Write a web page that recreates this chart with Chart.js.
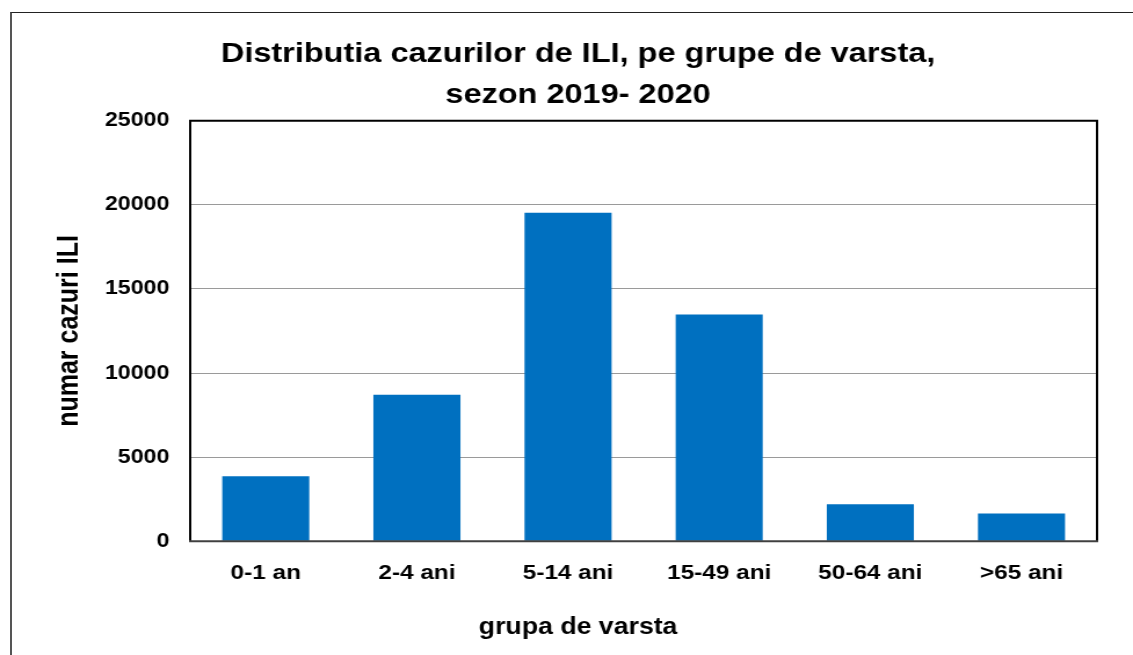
<!DOCTYPE html>
<html>
<head>
<meta charset="utf-8">
<title>Distributia cazurilor de ILI</title>
<script src="https://cdn.jsdelivr.net/npm/chart.js@4.4.1/dist/chart.umd.min.js"></script>
<style>
    html, body { margin: 0; padding: 0; background: #fff; overflow: hidden; }
    #frame {
        position: absolute; left: 10px; top: 12px; width: 1200px; height: 700px;
        border-left: 2px solid #555; border-top: 1px solid #222;
    }
    #iliChart { position: absolute; left: 0; top: 0; }
</style>
</head>
<body>
<div id="frame"></div>
<!-- the original picture is stretched sideways, so the canvas is shown wider than it draws -->
<canvas id="iliChart" width="977" height="655" style="width:1133px;height:655px"></canvas>
<script>
// Data
const categories = ["0-1 an", "2-4 ani", "5-14 ani", "15-49 ani", "50-64 ani", ">65 ani"];
const cases = [3860, 8710, 19530, 13480, 2190, 1650];
const yTicks = [0, 5000, 10000, 15000, 20000, 25000];

const FONT = "'Liberation Sans', Arial, sans-serif";
const LEFT_PAD = 51;
const PLOT_LEFT = 164;

// Draws the black box round the plot area
const plotBorder = {
    id: "plotBorder",
    afterDatasetsDraw(chart) {
        const { ctx, chartArea: a } = chart;
        ctx.save();
        ctx.lineWidth = 2;
        ctx.strokeStyle = "#000";
        ctx.beginPath();
        ctx.moveTo(a.left, a.bottom);
        ctx.lineTo(a.left, a.top);
        ctx.lineTo(a.right, a.top);
        ctx.lineTo(a.right, a.bottom);
        ctx.stroke();
        ctx.strokeStyle = "#404040";
        ctx.beginPath();
        ctx.moveTo(a.left - 1, a.bottom);
        ctx.lineTo(a.right + 1, a.bottom);
        ctx.stroke();
        ctx.restore();
    }
};

const ctx = document.getElementById("iliChart").getContext("2d");

new Chart(ctx, {
    type: "bar",
    data: {
        labels: categories,
        datasets: [{
            label: "numar cazuri ILI",
            data: cases,
            backgroundColor: "#0070C0",
            borderWidth: 0,
            barPercentage: 0.72,
            categoryPercentage: 0.8,
        }],
    },
    options: {
        responsive: false,
        devicePixelRatio: 1,
        animation: false,
        layout: {
            padding: { left: LEFT_PAD, right: 31, top: 0, bottom: 0 },
        },
        plugins: {
            legend: { display: false },
            tooltip: { enabled: false },
            title: {
                display: true,
                text: ["Distributia cazurilor de ILI, pe grupe de varsta,", "sezon 2019- 2020"],
                color: "#000",
                font: { family: FONT, size: 28, weight: "bold", lineHeight: 1.46 },
                padding: { top: 34, bottom: 5 },
            },
            subtitle: {
                display: true,
                position: "bottom",
                text: "grupa de varsta",
                color: "#000",
                font: { family: FONT, size: 23, weight: "bold", lineHeight: 1.2 },
                padding: { top: 9, bottom: 14 },
            },
        },
        scales: {
            x: {
                grid: { display: false, drawTicks: false },
                border: { display: false },
                ticks: {
                    color: "#000",
                    padding: 19,
                    font: { family: FONT, size: 21, weight: "bold" },
                },
            },
            y: {
                min: 0,
                max: 25000,
                afterBuildTicks: (scale) => {
                    scale.ticks = yTicks.map((v) => ({ value: v }));
                },
                afterFit: (scale) => {
                    scale.width = PLOT_LEFT - LEFT_PAD;
                },
                grid: { color: "#9a9a9a", lineWidth: 1, drawTicks: false },
                border: { display: false },
                ticks: {
                    color: "#000",
                    padding: 18,
                    font: { family: FONT, size: 20, weight: "bold" },
                    callback: (value) => String(value),
                },
                title: {
                    display: true,
                    text: "numar cazuri ILI",
                    color: "#000",
                    padding: { top: -6, bottom: 0 },
                    font: { family: FONT, size: 25, weight: "bold" },
                },
            },
        },
    },
    plugins: [plotBorder],
});
</script>
</body>
</html>
